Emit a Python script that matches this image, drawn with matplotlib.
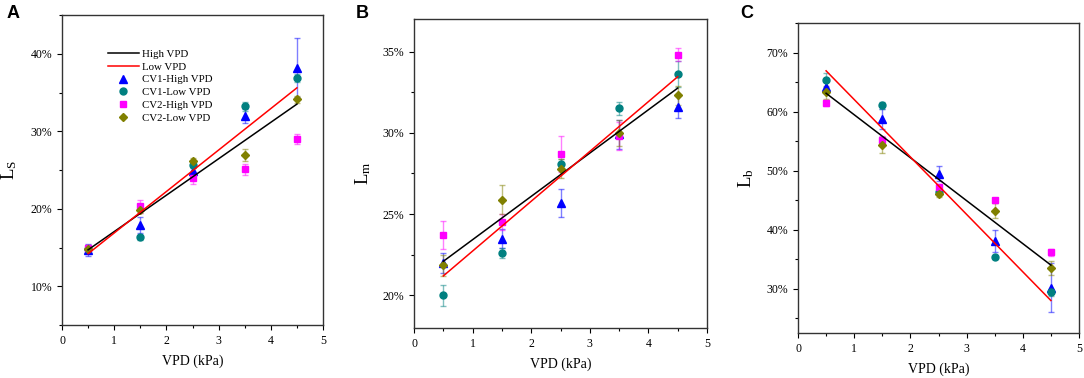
import matplotlib
matplotlib.use("Agg")
import matplotlib.pyplot as plt
from matplotlib.ticker import MultipleLocator, FuncFormatter

plt.rcParams['font.family'] = ['Liberation Serif', 'DejaVu Serif']
plt.rcParams['mathtext.fontset'] = 'custom'
plt.rcParams['mathtext.rm'] = 'Liberation Serif'

vpd = [0.5, 1.5, 2.5, 3.5, 4.5]
series_names = ["CV1-High VPD", "CV1-Low VPD", "CV2-High VPD", "CV2-Low VPD"]

# panel A: Ls (%)
ls_cv1_high = [14.7, 17.9, 24.9, 32.0, 38.2]
ls_cv1_high_err = [0.8, 1.0, 0.5, 0.9, 3.8]
ls_cv1_low = [14.8, 16.3, 25.6, 33.2, 36.9]
ls_cv1_low_err = [0.3, 0.3, 0.4, 0.6, 0.5]
ls_cv2_high = [14.9, 20.3, 24.0, 25.1, 29.0]
ls_cv2_high_err = [0.4, 0.8, 0.8, 0.7, 0.6]
ls_cv2_low = [14.8, 19.9, 26.2, 26.9, 34.1]
ls_cv2_low_err = [0.5, 0.4, 0.3, 0.8, 0.5]
ls_high_line = [14.7, 33.5]
ls_low_line = [14.2, 35.6]

# panel B: Lm (%)
lm_cv1_high = [22.0, 23.5, 25.7, 29.9, 31.6]
lm_cv1_high_err = [0.6, 0.6, 0.85, 0.9, 0.7]
lm_cv1_low = [20.0, 22.6, 28.1, 31.5, 33.6]
lm_cv1_low_err = [0.65, 0.3, 0.3, 0.4, 0.8]
lm_cv2_high = [23.7, 24.5, 28.7, 29.8, 34.8]
lm_cv2_high_err = [0.85, 0.5, 1.1, 0.85, 0.4]
lm_cv2_low = [21.85, 25.9, 27.8, 30.0, 32.3]
lm_cv2_low_err = [0.65, 0.9, 0.6, 0.8, 0.6]
lm_high_line = [22.1, 32.75]
lm_low_line = [21.2, 33.45]

# panel C: Lb (%)
lb_cv1_high = [64.2, 58.7, 49.5, 38.1, 30.2]
lb_cv1_high_err = [1.0, 1.7, 1.3, 1.8, 4.2]
lb_cv1_low = [65.3, 61.1, 46.3, 35.3, 29.4]
lb_cv1_low_err = [1.2, 0.6, 0.4, 0.3, 0.6]
lb_cv2_high = [61.5, 55.2, 47.3, 45.0, 36.2]
lb_cv2_high_err = [0.5, 0.6, 0.5, 0.4, 0.6]
lb_cv2_low = [63.3, 54.3, 46.0, 43.2, 33.5]
lb_cv2_low_err = [1.1, 1.4, 0.5, 1.3, 1.2]
lb_high_line = [63.1, 34.0]
lb_low_line = [66.9, 28.0]

colors = ['#0000FF', '#008080', '#FF00FF', '#808000']
markers = ['^', 'o', 's', 'D']
msizes = [5.4, 5.0, 4.8, 4.4]

fig = plt.figure(figsize=(10.84, 3.78), dpi=100)
W, H = 1084, 378


def make_axes(x0, y0, x1, y1):
    return fig.add_axes([x0 / W, (H - y1) / H, (x1 - x0) / W, (y1 - y0) / H])


def draw_panel(ax, means, errs, high_line, low_line, ylim, major, minor,
               ylabel, ylabel_x, letter, letter_x, legend=False):
    ax.plot([vpd[0], vpd[-1]], high_line, color='black', lw=1.1, label='High VPD', zorder=4)
    ax.plot([vpd[0], vpd[-1]], low_line, color='red', lw=1.1, label='Low VPD', zorder=4)
    for i in range(4):
        ax.errorbar(vpd, means[i], yerr=errs[i], fmt='none', ecolor=colors[i],
                    alpha=0.5, elinewidth=1.0, capsize=2.2, capthick=1.0, zorder=2)
        ax.plot(vpd, means[i], linestyle='none', marker=markers[i], ms=msizes[i],
                color=colors[i], markeredgecolor=colors[i], label=series_names[i], zorder=3)
    ax.set_xlim(0, 5)
    ax.set_ylim(*ylim)
    ax.xaxis.set_major_locator(MultipleLocator(1))
    ax.xaxis.set_minor_locator(MultipleLocator(0.5))
    ax.yaxis.set_major_locator(MultipleLocator(major))
    ax.yaxis.set_minor_locator(MultipleLocator(minor))
    ax.yaxis.set_major_formatter(FuncFormatter(lambda v, p: f"{v:.0f}%"))
    ax.tick_params(which='both', direction='out', top=False, right=False,
                   labelsize=8.5, width=0.8)
    ax.tick_params(which='major', length=3.5)
    ax.tick_params(which='minor', length=2)
    for s in ax.spines.values():
        s.set_linewidth(1.0)
        s.set_color('#333333')
    ax.set_xlabel('VPD (kPa)', fontsize=10)
    ax.xaxis.set_label_coords(0.5, -0.095)
    ax.set_ylabel(ylabel, fontsize=13.5)
    ax.yaxis.set_label_coords(ylabel_x, 0.5)
    fig.text(letter_x / W, 1 - 14 / H, letter, fontsize=13, fontweight='bold',
             family='Liberation Sans', ha='center', va='center')
    if legend:
        ax.legend(loc='upper left', bbox_to_anchor=(0.175, 0.89), frameon=False,
                  fontsize=7.8, handlelength=2.9, handletextpad=0.3,
                  labelspacing=0.3, borderaxespad=0, borderpad=0)


axA = make_axes(62, 15, 323, 325)
draw_panel(axA,
           [ls_cv1_high, ls_cv1_low, ls_cv2_high, ls_cv2_low],
           [ls_cv1_high_err, ls_cv1_low_err, ls_cv2_high_err, ls_cv2_low_err],
           ls_high_line, ls_low_line, (5, 45), 10, 5,
           r'$\mathregular{L_S}$', -0.165, 'A', 13, legend=True)

axB = make_axes(414, 19, 707, 328)
draw_panel(axB,
           [lm_cv1_high, lm_cv1_low, lm_cv2_high, lm_cv2_low],
           [lm_cv1_high_err, lm_cv1_low_err, lm_cv2_high_err, lm_cv2_low_err],
           lm_high_line, lm_low_line, (18, 37), 5, 2.5,
           r'$\mathregular{L_m}$', -0.14, 'B', 362)

axC = make_axes(798, 23, 1079, 333)
draw_panel(axC,
           [lb_cv1_high, lb_cv1_low, lb_cv2_high, lb_cv2_low],
           [lb_cv1_high_err, lb_cv1_low_err, lb_cv2_high_err, lb_cv2_low_err],
           lb_high_line, lb_low_line, (22.5, 75), 10, 5,
           r'$\mathregular{L_b}$', -0.15, 'C', 747)

fig.savefig('out.png', dpi=100)
